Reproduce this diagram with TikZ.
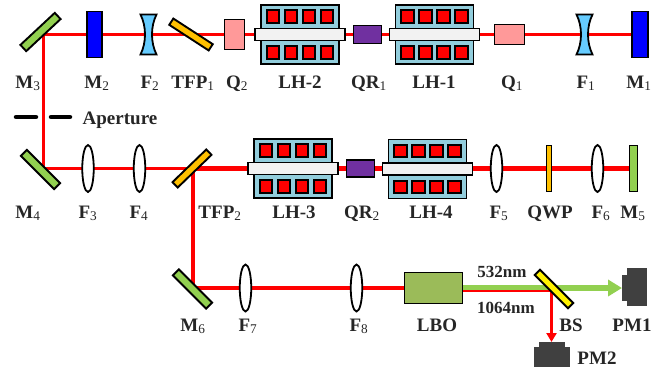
\documentclass[tikz,border=0pt]{standalone}
\usepackage{fontspec}
\setmainfont{Liberation Serif}
\usepackage{tikz}
\usetikzlibrary{calc}
\usetikzlibrary{backgrounds}
\usetikzlibrary{arrows.meta}
\usetikzlibrary{shapes.geometric}
\definecolor{mirrorgreen}{HTML}{92D050}
\definecolor{lensblue}{HTML}{66CCFF}
\definecolor{plategold}{HTML}{FFC000}
\definecolor{qpink}{HTML}{FF9999}
\definecolor{qrpurple}{HTML}{7030A0}
\definecolor{headblue}{HTML}{92CDDC}
\definecolor{lboolive}{HTML}{9BBB59}
\definecolor{pmgray}{HTML}{404040}
\tikzset{
    part/.style={draw=black, line width=1.9pt, rectangle, inner sep=0pt, minimum width=#1},
    mirror/.style={part=47pt, minimum height=8.5pt, fill=mirrorgreen},
    tfp/.style={part=47pt, minimum height=7.5pt, fill=plategold},
    lens/.style={draw=black, line width=1.8pt, ellipse, inner sep=0pt, minimum width=11.5pt, minimum height=47pt, fill=white},
    concave/.style={draw=black, line width=1.8pt, fill=lensblue},
    coil/.style={part=12.5pt, minimum height=12.5pt, line width=1.8pt, fill=red},
    pmbox/.style={part=#1, fill=pmgray, draw=pmgray, line width=0pt},
    lab/.style={font=\bfseries\fontsize{19}{21}\selectfont, anchor=base, inner sep=0pt, text=black!85},
    smalllab/.style={font=\bfseries\fontsize{17}{19}\selectfont, anchor=base, inner sep=0pt, text=black!85},
    beam/.style={draw=red, line width=#1}
}
\newcommand{\idx}[1]{\textsubscript{\mdseries #1}}
\newcommand{\lamphead}[3]{
    \node[part=78pt, minimum height=59pt, fill=headblue] (#1) at (#2,#3) {};
    \foreach \dx in {-27,-9,9,27} {
        \node[coil] (#1up\dx) at ($(#1)+(\dx,-18)$) {};
        \node[coil] (#1down\dx) at ($(#1)+(\dx,18)$) {};
    }
    \node[part=90pt, minimum height=12pt, fill=black!5] (#1rod) at (#2,#3) {};
}
\newcommand{\concavelens}[3]{
    \coordinate (#1) at (#2,#3);
    \draw[concave] ($(#1)+(-8,-20)$) -- ($(#1)+(8,-20)$)
        .. controls ($(#1)+(2,-8)$) and ($(#1)+(2,8)$) .. ($(#1)+(8,20)$)
        -- ($(#1)+(-8,20)$)
        .. controls ($(#1)+(-2,8)$) and ($(#1)+(-2,-8)$) .. cycle;
}
\begin{document}
\begin{tikzpicture}[x=1pt, y=-1pt]
    \useasboundingbox (0,0) rectangle (666,368);
    \node[mirror, rotate=43] (M3) at (40.5,32) {};
    \node[part=15.5pt, minimum height=46pt, fill=blue] (M2) at (94.5,34.5) {};
    \concavelens{F2}{148.5}{34.5}
    \node[tfp, rotate=-33] (TFP1) at (191,34.5) {};
    \node[part=20pt, minimum height=30pt, fill=qpink] (Q2) at (234.5,34.5) {};
    \lamphead{LH2}{300}{34.5}
    \node[part=28pt, minimum height=18pt, fill=qrpurple] (QR1) at (367.5,34.5) {};
    \lamphead{LH1}{434.5}{34.5}
    \node[part=30pt, minimum height=20pt, fill=qpink] (Q1) at (509.5,34.5) {};
    \concavelens{F1}{584.5}{34.5}
    \node[part=15.5pt, minimum height=46pt, fill=blue] (M1) at (640,34.5) {};
    \coordinate (turnA) at (43,34.5);
    \coordinate (turnB) at (43,168.5);
    \coordinate (apA) at (16,117);
    \coordinate (apB) at (36,117);
    \coordinate (apC) at (51,117);
    \coordinate (apD) at (70,117);
    \draw[line width=4.5pt, line cap=round] (apA) -- (apB);
    \draw[line width=4.5pt, line cap=round] (apC) -- (apD);
    \node[mirror, rotate=-45] (M4) at (40.5,169.5) {};
    \node[lens] (F3) at (88,168.5) {};
    \node[lens] (F4) at (139.5,168.5) {};
    \node[tfp, rotate=44] (TFP2) at (192,168.5) {};
    \lamphead{LH3}{293}{168.5}
    \node[part=28pt, minimum height=17pt, fill=qrpurple] (QR2) at (360.5,168.5) {};
    \lamphead{LH4}{427.5}{169}
    \node[lens] (F5) at (496.5,168.5) {};
    \node[part=5pt, minimum height=46pt, fill=plategold] (QWP) at (549,168.5) {};
    \node[lens] (F6) at (597.5,168.5) {};
    \node[part=8pt, minimum height=46pt, fill=mirrorgreen] (M5) at (633.5,168.5) {};
    \coordinate (turnC) at (193,168.5);
    \coordinate (turnD) at (193,288);
    \node[mirror, rotate=-45] (M6) at (192.5,289) {};
    \node[lens] (F7) at (245.5,288) {};
    \node[lens] (F8) at (356.5,288) {};
    \node[part=58pt, minimum height=31pt, fill=lboolive] (LBO) at (433.5,288) {};
    \node[pmbox=5pt, minimum height=25pt] (PM1nose) at (624.5,287.5) {};
    \node[pmbox=19pt, minimum height=37pt] (PM1) at (636.5,286.5) {};
    \node[pmbox=25pt, minimum height=5pt] (PM2nose) at (551.5,344.5) {};
    \node[pmbox=35pt, minimum height=19pt] (PM2) at (551.5,356.5) {};
    \coordinate (out532) at (LBO.east |- 0,288);
    \coordinate (out1064) at (LBO.east |- 0,291);
    \coordinate (turnE) at (551.5,291);
    \begin{pgfonlayer}{background}
        \draw[beam=3pt] (M1.center) -- (F1) -- (Q1.center) -- (LH1.center) -- (QR1.center) -- (LH2.center) -- (Q2.center) -- (TFP1.center) -- (F2) -- (M2.center) -- (turnA) -- (turnB);
        \draw[beam=3.4pt] (turnB) -- (F3.center) -- (F4.center) -- (turnC);
        \draw[beam=5pt] (turnC) -- (LH3rod.center) -- (QR2.center) -- (QR2.center -| LH4.center) -- (F5.center) -- (QWP.center) -- (F6.center) -- (M5.center);
        \draw[beam=4.2pt] (turnC) -- (turnD) -- (F7.center) -- (F8.center) -- (LBO.center);
    \end{pgfonlayer}
    \draw[draw=mirrorgreen, line width=5.5pt, -{Triangle[length=14pt, width=16pt]}] (out532) -- (PM1nose.west |- out532);
    \draw[beam=2.5pt, -{Triangle[length=9pt, width=10pt]}] (out1064) -- (turnE) -- (PM2nose.north);
    \node[mirror, rotate=-45, fill=yellow, minimum height=7.5pt] (BS) at (554,289) {};
    \foreach \x/\txt [count=\n] in {28/M\idx{3}, 97/M\idx{2}, 150/F\idx{2}, 193/TFP\idx{1}, 237/Q\idx{2}, 300/LH-2, 369/QR\idx{1}, 434/LH-1, 512/Q\idx{1}, 586/F\idx{1}, 639/M\idx{1}}
        \node[lab] (labA\n) at (\x,88) {\txt};
    \foreach \x/\txt [count=\n] in {28/M\idx{4}, 88/F\idx{3}, 139/F\idx{4}, 220/TFP\idx{2}, 294/LH-3, 362/QR\idx{2}, 431/LH-4, 499/F\idx{5}, 550/QWP, 601/F\idx{6}, 633/M\idx{5}}
        \node[lab] (labB\n) at (\x,218) {\txt};
    \foreach \x/\txt [count=\n] in {193/M\idx{6}, 248/F\idx{7}, 359/F\idx{8}, 437/LBO, 571/BS, 632/PM1}
        \node[lab] (labC\n) at (\x,331) {\txt};
    \node[lab] (labAp) at (120,124) {Aperture};
    \node[lab] (labPM) at (597,364) {PM2};
    \node[smalllab] (lab532) at (502,277) {532nm};
    \node[smalllab] (lab1064) at (506,313) {1064nm};
\end{tikzpicture}
\end{document}
